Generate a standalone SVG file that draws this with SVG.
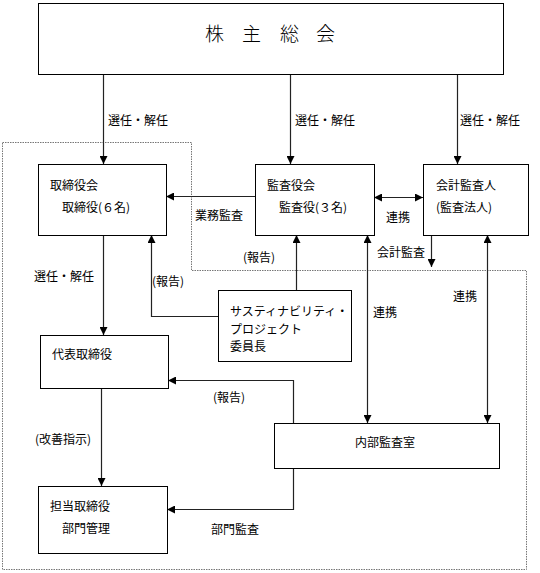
<svg xmlns="http://www.w3.org/2000/svg" width="540" height="573" viewBox="0 0 540 573">
<style>
.box{fill:#fff;stroke:#000;stroke-width:1}
.t{font-family:"Noto Sans CJK JP","Noto Sans CJK SC",sans-serif;font-size:12px;fill:#000}
.title{font-family:"Noto Sans CJK JP","Noto Sans CJK SC",sans-serif;font-size:19px;font-weight:300;fill:#000}
.c{fill:none;stroke:#222;stroke-width:1.2}
.region{fill:none;stroke:#777;stroke-width:1;stroke-dasharray:1.5 1}
</style>
<defs>
<marker id="ah" markerWidth="9" markerHeight="8" refX="8" refY="4" orient="auto-start-reverse" markerUnits="userSpaceOnUse">
<path d="M0,0 L8,4 L0,8 z" fill="#000"/>
</marker>
</defs>
<rect width="540" height="573" fill="#fff"/>
<polygon class="region" points="2.5,142.5 191.5,142.5 191.5,270.5 526.5,270.5 526.5,569.5 2.5,569.5"/>
<g id="connectors">
<path class="c" d="M103.5,75 V164" marker-end="url(#ah)"/>
<path class="c" d="M290.5,75 V164" marker-end="url(#ah)"/>
<path class="c" d="M457.5,75 V164" marker-end="url(#ah)"/>
<path class="c" d="M255,196.5 H166" marker-end="url(#ah)"/>
<path class="c" d="M218,316.5 H151.5 V235" marker-end="url(#ah)"/>
<path class="c" d="M103.5,235 V335" marker-end="url(#ah)"/>
<path class="c" d="M296.5,290 V235" marker-end="url(#ah)"/>
<path class="c" d="M374,197.5 H423" marker-start="url(#ah)" marker-end="url(#ah)"/>
<path class="c" d="M431.5,235 V267" marker-end="url(#ah)"/>
<path class="c" d="M367.5,235 V423" marker-start="url(#ah)" marker-end="url(#ah)"/>
<path class="c" d="M487.5,235 V423" marker-start="url(#ah)" marker-end="url(#ah)"/>
<path class="c" d="M293.5,423 V380.5 H168" marker-end="url(#ah)"/>
<path class="c" d="M293.5,468 V509.5 H167" marker-end="url(#ah)"/>
<path class="c" d="M101.5,388 V486" marker-end="url(#ah)"/>
<text class="t" x="108" y="125">選任・解任</text>
<text class="t" x="295" y="125">選任・解任</text>
<text class="t" x="460" y="125">選任・解任</text>
<text class="t" x="195" y="220">業務監査</text>
<text class="t" x="152" y="286">(報告)</text>
<text class="t" x="34" y="281">選任・解任</text>
<text class="t" x="243" y="262">(報告)</text>
<text class="t" x="386" y="222">連携</text>
<text class="t" x="377" y="257">会計監査</text>
<text class="t" x="373" y="317">連携</text>
<text class="t" x="453" y="301">連携</text>
<text class="t" x="213" y="402">(報告)</text>
<text class="t" x="35" y="444">(改善指示)</text>
<text class="t" x="211" y="534">部門監査</text>
</g>
<g id="shareholders">
<rect class="box" x="38.5" y="3.5" width="465" height="71"/>
<text class="title" x="205 242 280 316" y="41">株主総会</text>
</g>
<g id="board">
<rect class="box" x="38.5" y="164.5" width="128" height="71"/>
<text class="t" x="50" y="190">取締役会</text>
<text class="t" x="62" y="212">取締役(６名)</text>
</g>
<g id="auditors">
<rect class="box" x="255.5" y="164.5" width="119" height="71"/>
<text class="t" x="267" y="190">監査役会</text>
<text class="t" x="279" y="212">監査役(３名)</text>
</g>
<g id="accounting-auditor">
<rect class="box" x="423.5" y="164.5" width="105" height="71"/>
<text class="t" x="436" y="190">会計監査人</text>
<text class="t" x="436" y="212">(監査法人)</text>
</g>
<g id="sustainability">
<rect class="box" x="218.5" y="290.5" width="133" height="71"/>
<text class="t" x="230" y="316">サスティナビリティ・</text>
<text class="t" x="230" y="334">プロジェクト</text>
<text class="t" x="230" y="351">委員長</text>
</g>
<g id="representative">
<rect class="box" x="40.5" y="335.5" width="128" height="53"/>
<text class="t" x="52" y="359">代表取締役</text>
</g>
<g id="internal-audit">
<rect class="box" x="274.5" y="423.5" width="225" height="45"/>
<text class="t" x="385" y="447" text-anchor="middle">内部監査室</text>
</g>
<g id="department">
<rect class="box" x="38.5" y="486.5" width="129" height="67"/>
<text class="t" x="50" y="511">担当取締役</text>
<text class="t" x="62" y="533">部門管理</text>
</g>
</svg>
